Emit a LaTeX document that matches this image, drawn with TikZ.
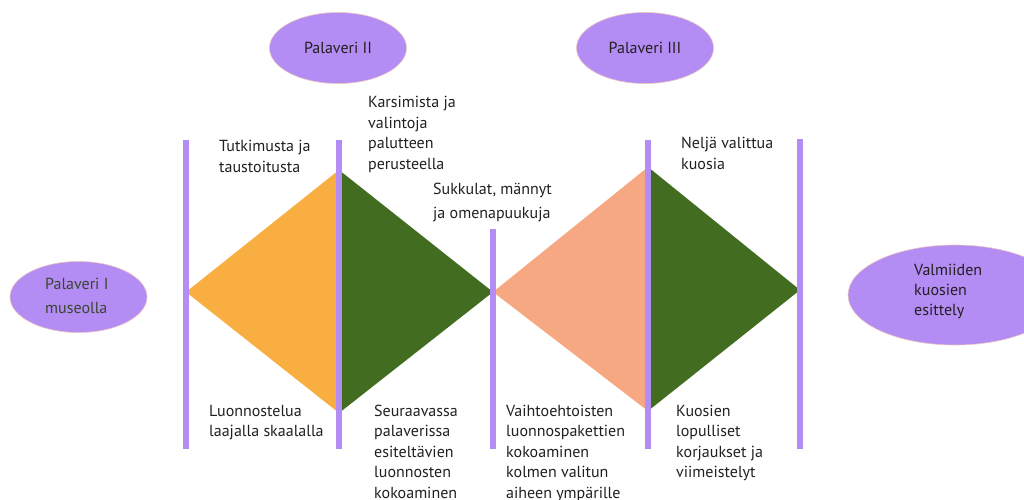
\documentclass[tikz,border=0pt]{standalone}
\usepackage{fontspec}
\setmainfont{PT Sans}
\usetikzlibrary{shapes.geometric}
\definecolor{lav}{RGB}{179,140,244}
\definecolor{lavedge}{RGB}{236,196,190}
\definecolor{orng}{RGB}{249,174,65}
\definecolor{grn}{RGB}{66,109,32}
\definecolor{salm}{RGB}{245,168,130}
\definecolor{txt}{RGB}{35,31,32}
\definecolor{olivetxt}{RGB}{58,70,48}
\tikzset{
  meet/.style={ellipse, fill=lav, draw=lavedge, line width=0.6pt, inner sep=0pt,
    minimum width=137pt, minimum height=71pt, text=txt,
    font=\fontsize{16}{20.5}\selectfont},
  lbl/.style={anchor=base west, inner sep=0pt, align=left, text=txt,
    font=\fontsize{16}{20.5}\selectfont},
  bar/.style={draw=lav, line width=5.5pt},
}
\begin{document}
\begin{tikzpicture}[x=1pt,y=-1pt]
\useasboundingbox (0,0) rectangle (1024,499);
\clip (0,0) rectangle (1024,499);
% coordinates
\coordinate (b1t) at (186,140); \coordinate (b1b) at (186,449);
\coordinate (b2t) at (339,140); \coordinate (b2b) at (339,449);
\coordinate (b3t) at (493,229); \coordinate (b3b) at (493,449);
\coordinate (b4t) at (648,140); \coordinate (b4b) at (648,449);
\coordinate (b5t) at (800,139); \coordinate (b5b) at (800,449);
\coordinate (d1l) at (186,292); \coordinate (d1t) at (339,170);
\coordinate (d1b) at (339,413); \coordinate (d1r) at (493,292);
\coordinate (d2l) at (493,292); \coordinate (d2t) at (648,167);
\coordinate (d2b) at (648,411); \coordinate (d2r) at (800,290);
% diamonds
\fill[orng] (d1l) -- (d1t) -- (d1b) -- cycle;
\fill[grn] (d1t) -- (d1r) -- (d1b) -- cycle;
\fill[salm] (d2l) -- (d2t) -- (d2b) -- cycle;
\fill[grn] (d2t) -- (d2r) -- (d2b) -- cycle;
% bars
\draw[bar] (b1t) -- (b1b);
\draw[bar] (b2t) -- (b2b);
\draw[bar] (b3t) -- (b3b);
\draw[bar] (b4t) -- (b4b);
\draw[bar] (b5t) -- (b5b);
% meetings
\node[meet] (p1) at (78.5,297) {};
\node[lbl, text=olivetxt, font=\fontsize{16}{24}\selectfont] (p1t) at (45,313) {Palaveri I\\museolla};
\node[meet] (p2) at (338,48) {Palaveri II};
\node[meet] (p3) at (645,48) {Palaveri III};
\node[meet, minimum width=214pt, minimum height=100pt] (p4) at (955,295) {};
\node[lbl, font=\fontsize{16}{20}\selectfont] (p4t) at (914,315) {Valmiiden\\kuosien\\esittely};
% labels (anchored at baseline of last line)
\node[lbl] (t1) at (219,172) {Tutkimusta ja\\taustoitusta};
\node[lbl] (t2) at (368,169) {Karsimista ja\\valintoja\\palutteen\\perusteella};
\node[lbl, font=\fontsize{16}{24}\selectfont] (t3) at (433,218) {Sukkulat, männyt\\ja omenapuukuja};
\node[lbl] (t4) at (681,169) {Neljä valittua\\kuosia};
\node[lbl] (u1) at (209,436.5) {Luonnostelua\\laajalla skaalalla};
\node[lbl] (u2) at (374,498) {Seuraavassa\\palaverissa\\esiteltävien\\luonnosten\\kokoaminen};
\node[lbl] (u3) at (506,498) {Vaihtoehtoisten\\luonnospakettien\\kokoaminen\\kolmen valitun\\aiheen ympärille};
\node[lbl] (u4) at (676,477.5) {Kuosien\\lopulliset\\korjaukset ja\\viimeistelyt};
\end{tikzpicture}
\end{document}
